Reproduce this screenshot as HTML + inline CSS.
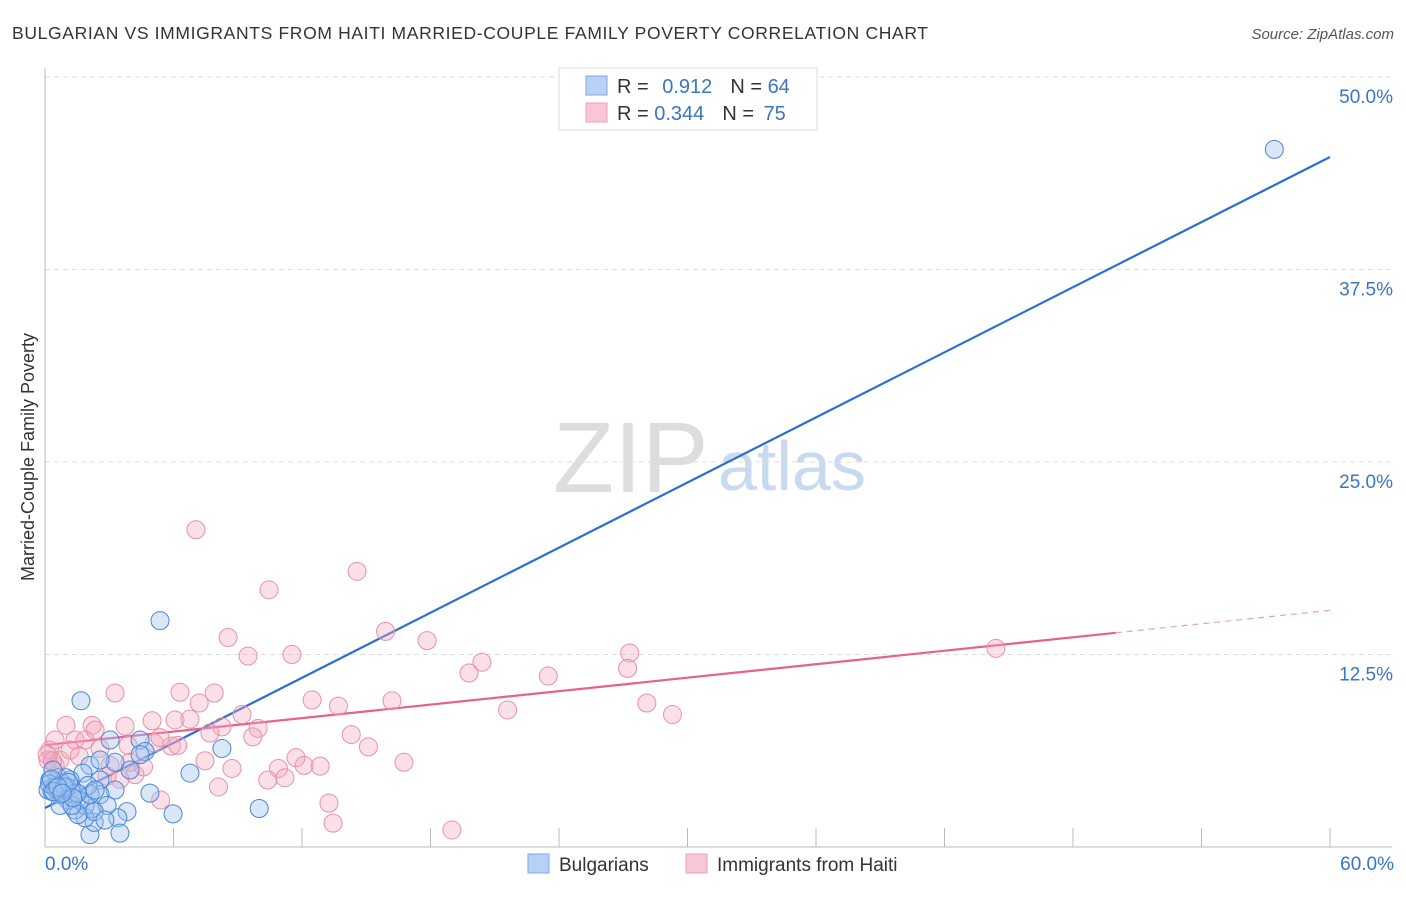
<!DOCTYPE html>
<html><head><meta charset="utf-8"><style>
body{margin:0;background:#fff;font-family:"Liberation Sans",sans-serif;}
svg text{font-family:"Liberation Sans",sans-serif;}
</style></head><body>
<svg id="chart" width="1406" height="892">
<text x="12" y="39" font-size="17.5" fill="#333" textLength="916">BULGARIAN VS IMMIGRANTS FROM HAITI MARRIED-COUPLE FAMILY POVERTY CORRELATION CHART</text>
<text x="1394" y="39" font-size="15" fill="#555" font-style="italic" text-anchor="end">Source: ZipAtlas.com</text>
<text transform="translate(34,457) rotate(-90)" font-size="18" fill="#333" text-anchor="middle">Married-Couple Family Poverty</text>
<g><text x="553" y="492" font-size="100" fill="#ddd" font-family="Liberation Serif">ZIP</text><text x="718" y="490" font-size="70" fill="#c9daf0">atlas</text></g>
<g id="grid"></g><g id="axes"></g><g id="trends"></g><g id="points"></g>
<g>
<rect x="559" y="68" width="258" height="62" fill="#fff" stroke="#ddd"/>
<rect x="586" y="76" width="21" height="19" fill="#b8d0f4" stroke="#7fa8e0"/>
<rect x="586" y="103" width="21" height="19" fill="#f8c6d4" stroke="#eca0b8"/>
<text x="617" y="93" font-size="20" fill="#333">R = <tspan fill="#3a75c4" dx="8">0.912</tspan><tspan dx="18" fill="#333">N = </tspan><tspan fill="#3a75c4">64</tspan></text>
<text x="617" y="120" font-size="20" fill="#333">R = <tspan fill="#3a75c4">0.344</tspan><tspan dx="18" fill="#333">N = </tspan><tspan dx="4" fill="#3a75c4">75</tspan></text>
</g>
<g>
<rect x="528" y="854" width="21" height="19" fill="#b8d0f4" stroke="#7fa8e0"/>
<text x="559" y="871" font-size="19" fill="#333">Bulgarians</text>
<rect x="686" y="854" width="21" height="19" fill="#f8c6d4" stroke="#eca0b8"/>
<text x="717" y="871" font-size="19" fill="#333">Immigrants from Haiti</text>
</g>
</svg>
<script>
const yTicks=[12.5,25,37.5,50];
const yTickLabels=["12.5%","25.0%","37.5%","50.0%"];
const xTickLabels=["0.0%","60.0%"];
const blueX=[57.4,5.37,1.68,8.26,6.77,3.04,4.44,4.67,3.27,2.1,1.77,2.57,3.27,4.9,3.83,5.98,10,3.4,3.5,2.1,2.3,2.2,1.87,1.4,1.07,0.7,0.47,0.23,0.14,0.93,1.26,0.6,1.17,1.4,1.63,1.87,0.8,0.33,2.57,2.9,2.3,2.8,1.54,0.98,0.37,2.1,0.7,1.26,4.44,2.57,3.97,2.01,2.34,0.2,0.5,1.0,1.5,0.3,0.9,1.1,0.4,0.6,1.3,0.8];
const blueY=[45.3,14.7,9.5,6.4,4.8,6.95,6.95,6.2,5.5,5.3,4.8,4.35,3.7,3.5,2.3,2.15,2.5,1.9,0.9,0.8,1.6,2.5,1.9,2.4,3.05,3.4,4,4.35,3.7,3.7,3.8,4.5,4.35,3.4,3.05,2.7,4.15,3.6,3.4,2.7,2.3,1.75,2.1,4.5,5,3.4,2.7,2.7,6,5.65,5,4,3.7,4.1,3.8,3.9,3.5,4.4,3.9,4.2,3.6,3.9,3.2,3.5];
const pinkX=[7.05,14.57,10.46,15.9,17.84,8.55,9.48,11.53,27.3,44.4,20.4,19.8,23.5,27.2,3.27,6.3,7.9,12.47,13.7,16.2,7.2,28.1,29.3,21.6,9.2,0.98,2.2,3.74,5,6.07,6.77,8.26,9.95,7.7,9.7,14.3,15.1,1.4,2.57,3.88,5.1,5.9,5.37,11.72,7.47,16.76,8.73,10.9,12.1,12.85,11.2,10.4,4.2,8.1,5.4,13.26,13.45,19.0,0.23,0.47,0.7,0.14,1.87,3.04,1.17,0.47,2.34,3.97,6.2,0.1,1.6,4.6,2.9,0.35,3.5];
const pinkY=[20.6,17.9,16.7,14,13.4,13.6,12.4,12.5,12.6,12.9,12,11.3,11.1,11.6,10,10.05,10,9.55,9.15,9.5,9.35,9.35,8.6,8.9,8.6,7.9,7.9,7.85,8.2,8.25,8.3,7.8,7.7,7.4,7.15,7.3,6.5,6.95,6.4,6.6,6.75,6.55,7.1,5.8,5.6,5.5,5.1,5.1,5.3,5.25,4.5,4.35,4.7,3.9,3.05,2.85,1.55,1.1,6.3,5.3,5.65,5.65,6.95,5.3,6.3,6.95,7.6,5.5,6.6,6.0,5.9,5.2,4.6,5.6,4.4];
const blueTrend=[2.53,0.7046];
const pinkTrend=[6.62,0.1458];
const pinkSolidEnd=50;
const X0=45,X1=1330,Y0=847,YS=192.5/12.5;
const sx=v=>X0+(v/60)*(X1-X0), sy=v=>Y0-v*YS;
const NS="http://www.w3.org/2000/svg";
function mk(t,a,p){const e=document.createElementNS(NS,t);for(const k in a)e.setAttribute(k,a[k]);p.appendChild(e);return e;}
const grid=document.getElementById('grid'),axes=document.getElementById('axes'),tr=document.getElementById('trends'),pts=document.getElementById('points');
yTicks.forEach((t,i)=>{
 const l=mk('line',{x1:X0,x2:1392,y1:sy(t),y2:sy(t),stroke:'#ddd','stroke-dasharray':'5,4'},grid);
 
 
 const tx=mk('text',{x:1393,y:sy(t)+26,'font-size':19,fill:'#3a75c4','text-anchor':'end'},axes);
 tx.textContent=yTickLabels[i];
 
 
});
const ya=mk('line',{x1:X0,x2:X0,y1:68,y2:Y0,stroke:'#bbb'},axes);


const xa=mk('line',{x1:X0,x2:1392,y1:Y0,y2:Y0,stroke:'#bbb'},axes);


for(let v=6;v<=60;v+=6){
 const tk=mk('line',{x1:sx(v),x2:sx(v),y1:828,y2:Y0,stroke:'#bbb'},axes);
 
 
}
[[0,'start',X0],[60,'end',1394]].forEach((d,i)=>{
 const tx=mk('text',{x:d[2],y:870,'font-size':19,fill:'#3a75c4','text-anchor':d[1]},axes);
 tx.textContent=xTickLabels[i];
 
 
});
pinkX.forEach((x,i)=>{
 const c=mk('circle',{cx:sx(x),cy:sy(pinkY[i]),r:9,fill:'rgba(244,166,190,0.35)',stroke:'#e890aa','stroke-width':1},pts);
 
 
});
blueX.forEach((x,i)=>{
 const c=mk('circle',{cx:sx(x),cy:sy(blueY[i]),r:9,fill:'rgba(160,194,240,0.4)',stroke:'#4a86d8','stroke-width':1},pts);
 
 
});
const bl=mk('line',{x1:sx(0),y1:sy(blueTrend[0]),x2:sx(60),y2:sy(blueTrend[0]+blueTrend[1]*60),stroke:'#2a6fd6','stroke-width':2.2},tr);


const pl=mk('line',{x1:sx(0),y1:sy(pinkTrend[0]),x2:sx(pinkSolidEnd),y2:sy(pinkTrend[0]+pinkTrend[1]*pinkSolidEnd),stroke:'#e8608c','stroke-width':2.2},tr);


const pd=mk('line',{x1:sx(pinkSolidEnd),y1:sy(pinkTrend[0]+pinkTrend[1]*pinkSolidEnd),x2:sx(60),y2:sy(pinkTrend[0]+pinkTrend[1]*60),stroke:'#e8a0b8','stroke-width':1.2,'stroke-dasharray':'6,5'},tr);


</script>
</body></html>
